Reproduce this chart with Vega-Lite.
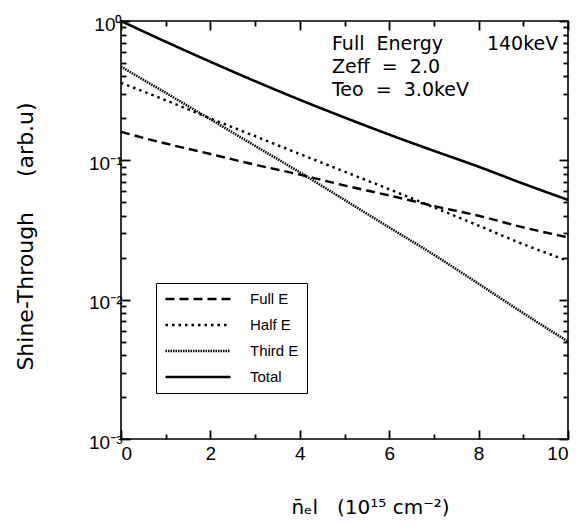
{
  "$schema": "https://vega.github.io/schema/vega-lite/v6.json",
  "width": 447,
  "height": 418,
  "autosize": {"type": "none"},
  "padding": {"left": 121, "top": 21, "right": 11, "bottom": 91},
  "background": "white",
  "config": {
    "view": {"stroke": "black", "strokeWidth": 1.6},
    "font": "Liberation Sans",
    "axis": {"grid": false, "domain": false, "labelColor": "black", "titleColor": "black", "labelFont": "Liberation Sans", "titleFont": "DejaVu Sans"}
  },
  "datasets": {
    "curves": [
      {"series": "Full E", "x": 0, "y": 0.16},
      {"series": "Full E", "x": 1, "y": 0.132},
      {"series": "Full E", "x": 2, "y": 0.111},
      {"series": "Full E", "x": 3, "y": 0.093},
      {"series": "Full E", "x": 4, "y": 0.079},
      {"series": "Full E", "x": 5, "y": 0.066},
      {"series": "Full E", "x": 6, "y": 0.056},
      {"series": "Full E", "x": 7, "y": 0.047},
      {"series": "Full E", "x": 8, "y": 0.040},
      {"series": "Full E", "x": 9, "y": 0.033},
      {"series": "Full E", "x": 10, "y": 0.028},
      {"series": "Half E", "x": 0, "y": 0.36},
      {"series": "Half E", "x": 1, "y": 0.27},
      {"series": "Half E", "x": 2, "y": 0.200},
      {"series": "Half E", "x": 3, "y": 0.149},
      {"series": "Half E", "x": 4, "y": 0.111},
      {"series": "Half E", "x": 5, "y": 0.083},
      {"series": "Half E", "x": 6, "y": 0.062},
      {"series": "Half E", "x": 7, "y": 0.046},
      {"series": "Half E", "x": 8, "y": 0.034},
      {"series": "Half E", "x": 9, "y": 0.025},
      {"series": "Half E", "x": 10, "y": 0.019},
      {"series": "Third E", "x": 0, "y": 0.47},
      {"series": "Third E", "x": 1, "y": 0.305},
      {"series": "Third E", "x": 2, "y": 0.197},
      {"series": "Third E", "x": 3, "y": 0.127},
      {"series": "Third E", "x": 4, "y": 0.082},
      {"series": "Third E", "x": 5, "y": 0.052},
      {"series": "Third E", "x": 6, "y": 0.033},
      {"series": "Third E", "x": 7, "y": 0.021},
      {"series": "Third E", "x": 8, "y": 0.013},
      {"series": "Third E", "x": 9, "y": 0.0080},
      {"series": "Third E", "x": 10, "y": 0.0050},
      {"series": "Total", "x": 0, "y": 1.0},
      {"series": "Total", "x": 1, "y": 0.71},
      {"series": "Total", "x": 2, "y": 0.51},
      {"series": "Total", "x": 3, "y": 0.37},
      {"series": "Total", "x": 4, "y": 0.272},
      {"series": "Total", "x": 5, "y": 0.203},
      {"series": "Total", "x": 6, "y": 0.153},
      {"series": "Total", "x": 7, "y": 0.117},
      {"series": "Total", "x": 8, "y": 0.090},
      {"series": "Total", "x": 9, "y": 0.068},
      {"series": "Total", "x": 10, "y": 0.052}
    ],
    "notesLeft": [
      {"x": 4.72, "y": 0.684, "label": "Full\u00a0\u00a0Energy"},
      {"x": 4.72, "y": 0.467, "label": "Zeff\u00a0\u00a0=\u00a0\u00a02.0"},
      {"x": 4.72, "y": 0.320, "label": "Teo\u00a0\u00a0=\u00a0\u00a03.0keV"}
    ],
    "notesRight": [
      {"x": 9.78, "y": 0.684, "label": "140keV"}
    ]
  },
  "resolve": {"axis": {"x": "independent", "y": "independent"}},
  "layer": [
    {
      "data": {"name": "curves"},
      "mark": {"type": "line", "color": "black", "interpolate": "monotone"},
      "encoding": {
        "x": {"field": "x", "type": "quantitative", "scale": {"domain": [0, 10], "nice": false},
          "axis": {"orient": "bottom", "values": [0, 2, 4, 6, 8, 10], "tickSize": -9, "tickColor": "black", "tickWidth": 1.8, "labelPadding": 14, "labelFontSize": 19, "title": "n̄ₑl\u00a0\u00a0\u00a0(10¹⁵\u00a0cm⁻²)", "titleFontSize": 20, "titleFontWeight": "normal", "titlePadding": 34, "titleX": 249}},
        "y": {"field": "y", "type": "quantitative", "scale": {"type": "log", "domain": [0.001, 1], "nice": false},
          "axis": {"orient": "left", "values": [0.001, 0.01, 0.1, 1], "tickSize": -9, "tickColor": "black", "tickWidth": 1.8, "labelPadding": 8, "labelFontSize": 19, "labelOffset": 3,
            "labelExpr": "datum.value >= 0.5 ? '10⁰' : datum.value >= 0.05 ? '10⁻¹' : datum.value >= 0.005 ? '10⁻²' : '10⁻³'",
            "title": "Shine-Through\u00a0\u00a0\u00a0\u00a0\u00a0(arb.u)", "titleFontSize": 22, "titleFontWeight": "normal",
            "titleX": -96, "titleY": 215, "titleAngle": 270, "titleAlign": "center", "titleBaseline": "middle"}},
        "strokeDash": {"field": "series", "type": "nominal",
          "scale": {"domain": ["Full E", "Half E", "Third E", "Total"], "range": [[9, 5], [2.5, 4], [1.5, 1], [1, 0]]},
          "legend": {"title": null, "orient": "none", "legendX": 35, "legendY": 262, "strokeColor": "black", "padding": 8,
            "symbolType": "M-1,0H9", "symbolSize": 169, "symbolStrokeColor": "black", "symbolStrokeWidth": 2.2,
            "labelFontSize": 15, "labelFont": "Liberation Sans", "labelColor": "black", "labelOffset": 70, "rowPadding": 10}},
        "strokeWidth": {"field": "series", "type": "nominal",
          "scale": {"domain": ["Full E", "Half E", "Third E", "Total"], "range": [2.4, 2.6, 1.8, 2.4]}, "legend": null}
      }
    },
    {
      "data": {"name": "curves"},
      "mark": {"type": "point", "opacity": 0},
      "encoding": {
        "x": {"field": "x", "type": "quantitative", "axis": {"orient": "bottom", "values": [1, 3, 5, 7, 9], "tickSize": -5, "tickColor": "black", "tickWidth": 1.8, "labels": false, "title": null}},
        "y": {"field": "y", "type": "quantitative", "axis": {"orient": "left", "values": [0.002, 0.003, 0.004, 0.005, 0.006, 0.007, 0.008, 0.009, 0.02, 0.03, 0.04, 0.05, 0.06, 0.07, 0.08, 0.09, 0.2, 0.3, 0.4, 0.5, 0.6, 0.7, 0.8, 0.9], "tickSize": -5, "tickColor": "black", "tickWidth": 1.8, "labels": false, "title": null}}
      }
    },
    {
      "data": {"name": "curves"},
      "mark": {"type": "point", "opacity": 0},
      "encoding": {
        "x": {"field": "x", "type": "quantitative", "axis": {"orient": "top", "values": [0, 2, 4, 6, 8, 10], "tickSize": 9, "offset": -9, "tickColor": "black", "tickWidth": 1.8, "labels": false, "title": null}},
        "y": {"field": "y", "type": "quantitative", "axis": {"orient": "right", "values": [0.001, 0.01, 0.1, 1], "tickSize": 9, "offset": -9, "tickColor": "black", "tickWidth": 1.8, "labels": false, "title": null}}
      }
    },
    {
      "data": {"name": "curves"},
      "mark": {"type": "point", "opacity": 0},
      "encoding": {
        "x": {"field": "x", "type": "quantitative", "axis": {"orient": "top", "values": [1, 3, 5, 7, 9], "tickSize": 5, "offset": -5, "tickColor": "black", "tickWidth": 1.8, "labels": false, "title": null}},
        "y": {"field": "y", "type": "quantitative", "axis": {"orient": "right", "values": [0.002, 0.003, 0.004, 0.005, 0.006, 0.007, 0.008, 0.009, 0.02, 0.03, 0.04, 0.05, 0.06, 0.07, 0.08, 0.09, 0.2, 0.3, 0.4, 0.5, 0.6, 0.7, 0.8, 0.9], "tickSize": 5, "offset": -5, "tickColor": "black", "tickWidth": 1.8, "labels": false, "title": null}}
      }
    },
    {
      "data": {"name": "notesLeft"},
      "mark": {"type": "text", "color": "black", "fontSize": 19, "font": "DejaVu Sans", "baseline": "middle", "align": "left"},
      "encoding": {
        "x": {"field": "x", "type": "quantitative", "axis": null},
        "y": {"field": "y", "type": "quantitative", "axis": null},
        "text": {"field": "label"}
      }
    },
    {
      "data": {"name": "notesRight"},
      "mark": {"type": "text", "color": "black", "fontSize": 19, "font": "DejaVu Sans", "baseline": "middle", "align": "right"},
      "encoding": {
        "x": {"field": "x", "type": "quantitative", "axis": null},
        "y": {"field": "y", "type": "quantitative", "axis": null},
        "text": {"field": "label"}
      }
    }
  ]
}
